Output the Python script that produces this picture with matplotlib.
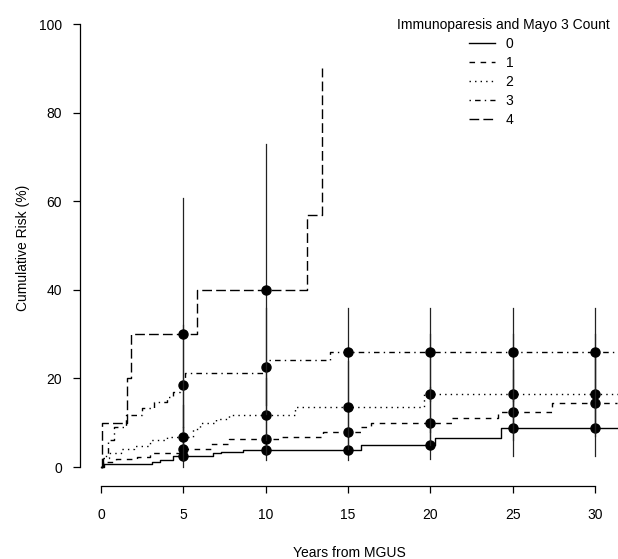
import numpy as np
import matplotlib
matplotlib.use('Agg')
import matplotlib.pyplot as plt

plt.rcParams['font.family'] = ['Liberation Sans', 'DejaVu Sans']
plt.rcParams['font.size'] = 10

# step curves: time where value changes (years), value after change (%)
t0 = [0, 0.2, 3.1, 3.6, 4.4, 6.8, 7.3, 8.6, 15.8, 20.3, 24.3, 31.3]
v0 = [0, 0.7, 1.1, 1.6, 2.4, 3.1, 3.5, 3.9, 5.0, 6.5, 8.8, 8.8]

t1 = [0, 0.1, 0.9, 2.2, 3.0, 4.8, 6.7, 7.8, 10.9, 13.5, 15.8, 16.4, 21.3, 24.1, 27.4, 31.3]
v1 = [0, 1.1, 1.8, 2.3, 3.1, 4.0, 5.2, 6.3, 6.8, 7.9, 9.0, 9.9, 11.0, 12.4, 14.4, 14.4]

t2 = [0, 0.1, 0.5, 1.2, 2.0, 3.0, 4.0, 5.6, 6.0, 7.0, 7.8, 11.8, 19.6, 31.5]
v2 = [0, 2.0, 3.2, 4.0, 4.8, 6.0, 6.8, 8.5, 9.9, 10.8, 11.7, 13.5, 16.5, 16.5]

t3 = [0, 0.1, 0.4, 0.8, 1.5, 2.5, 3.2, 4.0, 4.4, 4.8, 5.1, 9.9, 10.1, 13.9, 31.2]
v3 = [0, 2.5, 6.0, 9.0, 11.7, 13.3, 14.7, 15.8, 17.0, 18.6, 21.2, 22.6, 24.1, 26.0, 26.0]

t4 = [0, 0.05, 1.6, 1.8, 5.8, 12.5, 13.4]
v4 = [0, 10, 20, 30, 40, 56.9, 90]

# confidence limits at the marked years
ci_years = [5, 10, 15, 20, 25, 30]
lo0 = [0.0, 1.6, 1.6, 1.8, 2.5, 2.5]
hi0 = [6.0, 7.0, 7.0, 9.0, 16.0, 16.0]
lo1 = [1.5, 3.0, 4.0, 5.0, 6.0, 7.0]
hi1 = [9.0, 12.0, 14.0, 18.0, 22.0, 26.0]
lo2 = [3.0, 6.0, 7.0, 8.0, 8.0, 8.0]
hi2 = [14.0, 20.0, 24.0, 30.0, 30.0, 30.0]
lo3 = [9.0, 12.0, 15.0, 15.0, 15.0, 15.0]
hi3 = [32.0, 36.0, 36.0, 36.0, 36.0, 36.0]
lo4 = [8.0, 14.0]
hi4 = [60.7, 72.9]

labels = ['0', '1', '2', '3', '4']
# R lty patterns 1..5
dashes = ['-', (0, (4, 4)), (0, (1, 3)), (0, (1, 3, 4, 3)), (0, (7, 3))]

curves = [(t0, v0, lo0, hi0), (t1, v1, lo1, hi1), (t2, v2, lo2, hi2),
          (t3, v3, lo3, hi3), (t4, v4, lo4, hi4)]

fig = plt.figure(figsize=(6.18, 5.59), dpi=100)
ax = fig.add_axes([80 / 618, 73 / 559, 538 / 618, 476 / 559])

for (t, v, lo, hi), ls, lab in zip(curves, dashes, labels):
    # trailing spaces push the legend entries left under the title
    ax.plot(t, v, drawstyle='steps-post', color='black', lw=1.0,
            linestyle=ls, label=lab + ' ' * 6)
    t = np.array(t)
    v = np.array(v)
    for k, yr in enumerate(ci_years):
        if yr > t[-1]:
            continue
        val = v[np.searchsorted(t, yr, side='right') - 1]
        ax.plot([yr, yr], [lo[k], hi[k]], color='#222222', lw=0.9)
        ax.plot(yr, val, 'o', color='black', ms=6.5)

ax.set_xlim(-1.275, 31.39)
ax.set_ylim(-4.29, 103.2)
ax.set_xticks([0, 5, 10, 15, 20, 25, 30])
ax.set_yticks([0, 20, 40, 60, 80, 100])
for s in ['top', 'right']:
    ax.spines[s].set_visible(False)
ax.spines['bottom'].set_bounds(0, 30)
ax.spines['left'].set_bounds(0, 100)
ax.spines['bottom'].set_linewidth(0.9)
ax.spines['left'].set_linewidth(0.9)
ax.tick_params(direction='out', length=5, width=0.9, labelsize=10, pad=8)
ax.tick_params(axis='x', pad=11)

ax.set_xlabel('Years from MGUS', labelpad=17)
ax.set_ylabel('Cumulative Risk (%)', labelpad=6)

leg = ax.legend(title='Immunoparesis and Mayo 3 Count', frameon=False,
                loc='upper right', bbox_to_anchor=(1.0, 1.0),
                handlelength=1.9, handletextpad=0.8, labelspacing=0.35,
                borderaxespad=0.2, fontsize=10, title_fontsize=10)

fig.savefig('out.png', dpi=100)
